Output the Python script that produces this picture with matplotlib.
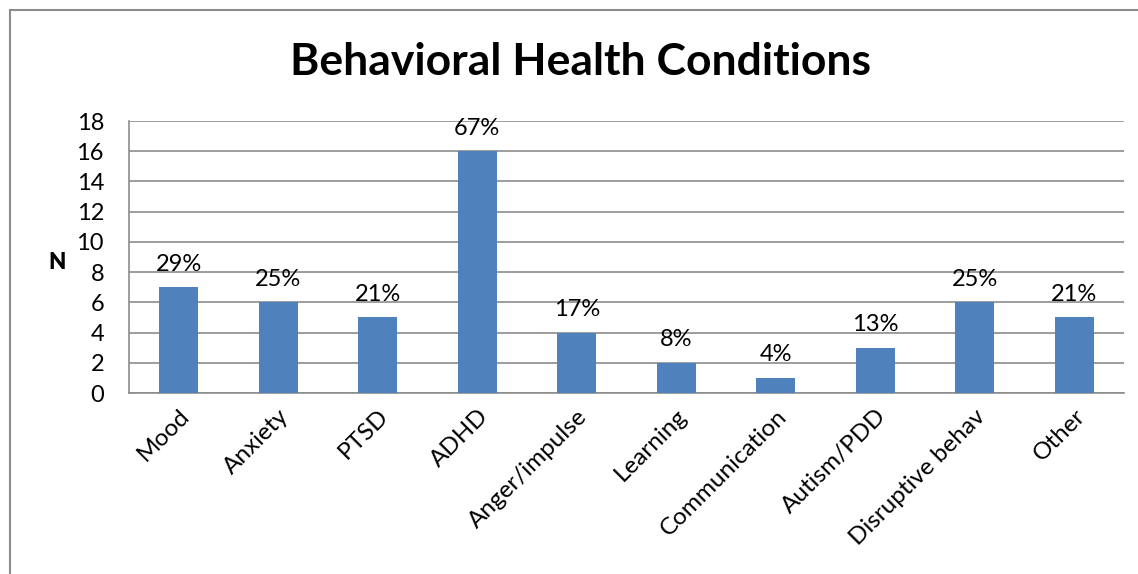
import matplotlib
matplotlib.use("Agg")
import matplotlib.pyplot as plt
from matplotlib.patches import Rectangle

categories = ["Mood", "Anxiety", "PTSD", "ADHD", "Anger/impulse", "Learning",
              "Communication", "Autism/PDD", "Disruptive behav", "Other"]
counts = [7, 6, 5, 16, 4, 2, 1, 3, 6, 5]
pct_labels = ["29%", "25%", "21%", "67%", "17%", "8%", "4%", "13%", "25%", "21%"]
yticks = [0, 2, 4, 6, 8, 10, 12, 14, 16, 18]

plt.rcParams['font.family'] = ['Lato', 'DejaVu Sans']

W, H = 1138, 574
fig = plt.figure(figsize=(W / 100, H / 100), dpi=100)
fig.patch.set_facecolor("white")

# outer chart frame (right and bottom edges lie outside the image)
fig.add_artist(Rectangle((10 / W, -0.05), 1.1, (H - 10) / H + 0.05,
                         transform=fig.transFigure, fill=False,
                         edgecolor="#8c8c8c", linewidth=1.5))

ax = fig.add_axes([129 / W, 1 - 393 / H, (1124 - 129) / W, (393 - 121) / H])
x = list(range(len(categories)))
ax.bar(x, counts, width=0.39, color="#4F81BD", zorder=3)
ax.set_xlim(-0.5, len(categories) - 0.5)
ax.set_ylim(0, 18)
ax.set_yticks(yticks)
ax.set_yticklabels([str(v) for v in yticks], fontsize=17)
ax.set_xticks(x)
ax.set_xticklabels(categories, rotation=45, ha="right", va="top",
                   rotation_mode="anchor", fontsize=17.5)
ax.tick_params(axis="y", length=0, pad=18)
ax.tick_params(axis="x", length=0, pad=9)
ax.grid(axis="y", color="#8c8c8c", linewidth=1.2, zorder=0)
for s in ["top", "right"]:
    ax.spines[s].set_visible(False)
for s in ["left", "bottom"]:
    ax.spines[s].set_color("#8c8c8c")
    ax.spines[s].set_linewidth(1.2)

for xi, v, lab in zip(x, counts, pct_labels):
    ax.annotate(lab, (xi, v), xytext=(0, 9), textcoords="offset points",
                ha="center", va="bottom", fontsize=17, zorder=4)

ax.set_ylabel("N", rotation=0, fontsize=16, fontweight="heavy",
              ha="center", va="center")
ax.yaxis.set_label_coords(-0.072, 0.48)

fig.text(581 / W, 1 - 62 / H, "Behavioral Health Conditions", ha="center",
         va="center", fontsize=32, fontweight="bold")

fig.savefig("out.png", dpi=100)
